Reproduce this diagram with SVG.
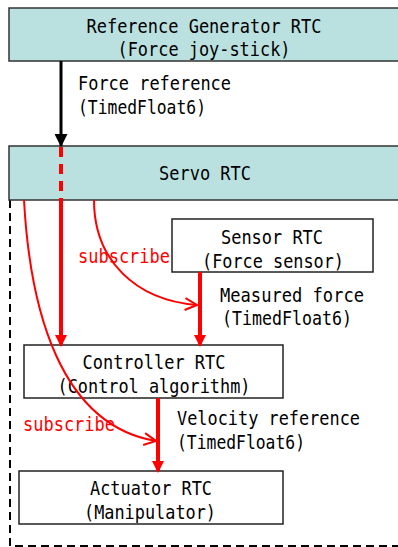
<svg xmlns="http://www.w3.org/2000/svg" width="398" height="547" viewBox="0 0 398 547">
<defs>
<style>
.t{font-family:"DejaVu Sans Mono","Liberation Mono",monospace;font-size:19px;fill:#000}
.r{fill:#ff0000}
.bx{fill:#fff;stroke:#222;stroke-width:1.5}
.tl{fill:#bae0e0;stroke:#333;stroke-width:1.5}
.rl{stroke:#ff0000;stroke-width:4;fill:none}
.rc{stroke:#ff0000;stroke-width:2;fill:none}
</style>
<marker id="ah" markerWidth="12" markerHeight="12" refX="10" refY="6" orient="auto" markerUnits="userSpaceOnUse" viewBox="0 0 12 12"><path d="M0,0 L12,6 L0,12 z" fill="#ff0000"/></marker>
<marker id="bh" markerWidth="13" markerHeight="13" refX="12" refY="6.5" orient="auto" markerUnits="userSpaceOnUse" viewBox="0 0 13 13"><path d="M0,0 L13,6.5 L0,13 z" fill="#000"/></marker>
<marker id="oh" markerWidth="16" markerHeight="16" refX="14" refY="8" orient="auto" markerUnits="userSpaceOnUse" viewBox="0 0 16 16"><path d="M2,2 L14,8 L2,14" fill="none" stroke="#ff0000" stroke-width="2"/></marker>
</defs>
<g id="boundary"><path d="M10,200 V546 H398" fill="none" stroke="#000" stroke-width="2" stroke-dasharray="8,5"/></g>
<g id="refgen"><rect class="tl" x="9" y="8" width="400" height="53"/>
<text class="t" x="204" y="33" text-anchor="middle" textLength="235" lengthAdjust="spacingAndGlyphs">Reference Generator RTC</text>
<text class="t" x="204" y="56" text-anchor="middle" textLength="173" lengthAdjust="spacingAndGlyphs">(Force joy-stick)</text></g>
<g id="servo"><rect class="tl" x="9" y="146" width="400" height="54"/>
<text class="t" x="205" y="180" text-anchor="middle" textLength="92" lengthAdjust="spacingAndGlyphs">Servo RTC</text></g>
<g id="sensor"><rect class="bx" x="172" y="219" width="201" height="53"/>
<text class="t" x="272" y="244" text-anchor="middle" textLength="102" lengthAdjust="spacingAndGlyphs">Sensor RTC</text>
<text class="t" x="273" y="268" text-anchor="middle" textLength="142" lengthAdjust="spacingAndGlyphs">(Force sensor)</text></g>
<g id="controller"><rect class="bx" x="24" y="345" width="259" height="53"/>
<text class="t" x="154" y="369" text-anchor="middle" textLength="143" lengthAdjust="spacingAndGlyphs">Controller RTC</text>
<text class="t" x="154" y="393" text-anchor="middle" textLength="193" lengthAdjust="spacingAndGlyphs">(Control algorithm)</text></g>
<g id="actuator"><rect class="bx" x="19" y="471" width="264" height="53"/>
<text class="t" x="151" y="495" text-anchor="middle" textLength="122" lengthAdjust="spacingAndGlyphs">Actuator RTC</text>
<text class="t" x="150" y="519" text-anchor="middle" textLength="132" lengthAdjust="spacingAndGlyphs">(Manipulator)</text></g>
<g id="connectors">
<line x1="61" y1="61" x2="61" y2="146" stroke="#000" stroke-width="3" marker-end="url(#bh)"/>
<line x1="61" y1="147" x2="61" y2="200" class="rl" stroke-dasharray="10,7"/>
<line x1="61" y1="200" x2="61" y2="345" class="rl" marker-end="url(#ah)"/>
<line x1="200" y1="272" x2="200" y2="345" class="rl" marker-end="url(#ah)"/>
<line x1="158" y1="398" x2="158" y2="471" class="rl" marker-end="url(#ah)"/>
<path class="rc" d="M94,200 C94,260 135,300 197,305" marker-end="url(#oh)"/>
<path class="rc" d="M24,200 C30,310 60,425 156,441" marker-end="url(#oh)"/>
<text class="t" x="78" y="90" textLength="153" lengthAdjust="spacingAndGlyphs">Force reference</text>
<text class="t" x="78" y="114" textLength="128" lengthAdjust="spacingAndGlyphs">(TimedFloat6)</text>
<text class="t r" x="78" y="263" textLength="92" lengthAdjust="spacingAndGlyphs">subscribe</text>
<text class="t" x="220" y="302" textLength="144" lengthAdjust="spacingAndGlyphs">Measured force</text>
<text class="t" x="222" y="325" textLength="130" lengthAdjust="spacingAndGlyphs">(TimedFloat6)</text>
<text class="t" x="177" y="425" textLength="183" lengthAdjust="spacingAndGlyphs">Velocity reference</text>
<text class="t" x="177" y="449" textLength="128" lengthAdjust="spacingAndGlyphs">(TimedFloat6)</text>
<text class="t r" x="23" y="431" textLength="92" lengthAdjust="spacingAndGlyphs">subscribe</text>
</g>
</svg>
